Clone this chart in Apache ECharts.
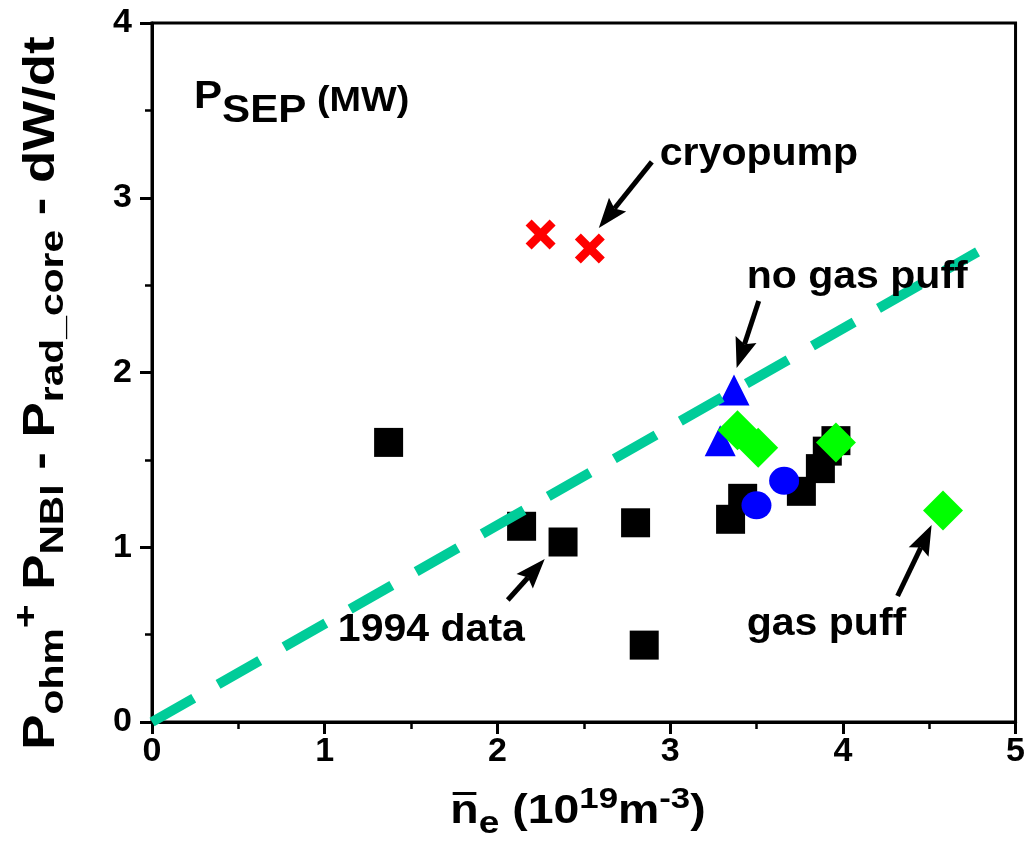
<!DOCTYPE html>
<html>
<head>
<meta charset="utf-8">
<script src="https://cdn.jsdelivr.net/npm/echarts@6/dist/echarts.min.js"></script>
<style>
  html, body { margin: 0; padding: 0; background: #fff; }
  #chart { width: 1028px; height: 848px; }
</style>
</head>
<body>
<div id="chart"></div>
<script>
const FONT = '"Liberation Sans", Arial, Helvetica, sans-serif';

// Axis ranges (line-averaged density in 1e19 m^-3, power in MW)
const xTickValues = [0, 1, 2, 3, 4, 5];
const yTickValues = [0, 1, 2, 3, 4];

// Measured points [density, P_SEP]
const data1994 = [
  [1.37, 1.60], [2.14, 1.12], [2.38, 1.03], [2.80, 1.14], [2.85, 0.44],
  [3.35, 1.16], [3.42, 1.28], [3.76, 1.32], [3.87, 1.45], [3.91, 1.55], [3.96, 1.61]
];
const circlePoints = [[3.50, 1.24], [3.66, 1.38]];
const noGasPuffPoints = [[3.37, 1.90], [3.29, 1.61]];
const gasPuffPoints = [[3.39, 1.67], [3.51, 1.57], [3.96, 1.60], [4.58, 1.21]];
const cryopumpPoints = [[2.25, 2.79], [2.535, 2.71]];

// Dashed threshold line end points
const trendLine = [[0, 0], [4.78, 2.69]];

// Annotation arrows [fromX, fromY, toX, toY] and their texts [text, x, y]
const arrows = [
  [2.894, 3.205, 2.587, 2.827],
  [3.513, 2.409, 3.385, 2.026],
  [2.060, 0.698, 2.274, 0.933],
  [4.317, 0.721, 4.514, 1.127]
];
const notes = [
  ['cryopump', 2.94, 3.245],
  ['no gas puff', 3.443, 2.546],
  ['1994 data', 1.076, 0.521],
  ['gas puff', 3.443, 0.555]
];

const chart = echarts.init(document.getElementById('chart'), null, { renderer: 'canvas' });

// text measuring for the mixed-size (sub/superscript) titles
const mctx = document.createElement('canvas').getContext('2d');
function fontStr(size) { return 'bold ' + size + 'px ' + FONT; }
function textWidth(t, size) { mctx.font = fontStr(size); return mctx.measureText(t).width; }

// Builds a run of text pieces laid out left to right; dy shifts a piece (down is positive)
function textRun(parts) {
  let x = 0;
  const children = [];
  parts.forEach(p => {
    const w = textWidth(p.t, p.s);
    children.push({
      type: 'text', x: x, y: p.dy || 0,
      style: { text: p.t, font: fontStr(p.s), fill: '#000', align: 'left', verticalAlign: 'middle' }
    });
    if (p.bar) {
      children.push({
        type: 'rect', shape: { x: x + 2, y: (p.dy || 0) - p.bar, width: w - 4, height: 3 },
        style: { fill: '#000' }
      });
    }
    x += w;
  });
  return { children, width: x };
}

const crossSymbol = 'path://M2,0L5,3L8,0L10,2L7,5L10,8L8,10L5,7L2,10L0,8L3,5L0,2Z';

const yTitle = textRun([
  { t: 'P', s: 44 }, { t: 'ohm', s: 34, dy: 12 }, { t: '+', s: 34, dy: -14 },
  { t: ' P', s: 44 }, { t: 'NBI', s: 34, dy: 12 },
  { t: ' - P', s: 44 }, { t: 'rad_core', s: 34, dy: 12 },
  { t: ' - dW/dt', s: 44 }
]);
const xTitle = textRun([
  { t: 'n', s: 40, bar: 20 }, { t: 'e', s: 32, dy: 12 },
  { t: ' (10', s: 40 }, { t: '19', s: 30, dy: -12 },
  { t: 'm', s: 40 }, { t: '-3', s: 30, dy: -12 }, { t: ')', s: 40 }
]);
const pTitle = textRun([
  { t: 'P', s: 39 }, { t: 'SEP', s: 39, dy: 14 }, { t: ' (MW)', s: 35, dy: 4 }
]);
const Y_STRETCH = 1.2, X_STRETCH = 1.16, P_STRETCH = 1.08, NOTE_STRETCH = 1.08;

const axisCommon = {
  type: 'value',
  axisLine: { show: true, onZero: false, lineStyle: { color: '#000', width: 3 } },
  axisTick: { show: true, inside: false, length: 12, lineStyle: { color: '#000', width: 3 } },
  minorTick: { show: true, splitNumber: 2, length: 7, lineStyle: { color: '#000', width: 2.5 } },
  splitLine: { show: false },
  minorSplitLine: { show: false }
};

const option = {
  backgroundColor: '#fff',
  animation: false,
  grid: {
    left: 152, right: 12, top: 23, bottom: 126,
    show: true, borderColor: '#000', borderWidth: 3, backgroundColor: 'transparent'
  },
  xAxis: Object.assign({}, axisCommon, {
    min: xTickValues[0], max: xTickValues[xTickValues.length - 1], interval: 1,
    axisLabel: { fontSize: 34, fontWeight: 'bold', color: '#000', fontFamily: FONT, margin: 13 }
  }),
  yAxis: Object.assign({}, axisCommon, {
    min: yTickValues[0], max: yTickValues[yTickValues.length - 1], interval: 1,
    axisLabel: { fontSize: 34, fontWeight: 'bold', color: '#000', fontFamily: FONT, margin: 20 }
  }),
  series: [
    { type: 'scatter', data: data1994, symbol: 'rect', symbolSize: 29,
      itemStyle: { color: '#000', opacity: 1 }, z: 2 },
    { type: 'scatter', data: circlePoints, symbol: 'circle', symbolSize: [30, 28],
      itemStyle: { color: '#0000FF', opacity: 1 }, z: 2 },
    { type: 'scatter', data: noGasPuffPoints, symbol: 'triangle', symbolSize: [31, 31],
      itemStyle: { color: '#0000FF', opacity: 1 }, z: 2 },
    { type: 'scatter', data: gasPuffPoints, symbol: 'diamond', symbolSize: 40,
      itemStyle: { color: '#00FF00', opacity: 1 }, z: 2 },
    { type: 'scatter', data: cryopumpPoints, symbol: crossSymbol, symbolSize: 30,
      itemStyle: { color: '#FF0000', opacity: 1 }, z: 2 },
    { type: 'line', data: trendLine, symbol: 'none', clip: false, z: 5,
      lineStyle: { color: '#00CC99', width: 10, type: [48, 28], cap: 'butt', opacity: 1 } },
    { type: 'custom', data: arrows, encode: { x: [0, 2], y: [1, 3] }, z: 6, silent: true, clip: false,
      renderItem: function (params, api) {
        const a = api.coord([api.value(0), api.value(1)]);
        const b = api.coord([api.value(2), api.value(3)]);
        const dx = b[0] - a[0], dy = b[1] - a[1];
        const len = Math.sqrt(dx * dx + dy * dy);
        const ux = dx / len, uy = dy / len, nx = -uy, ny = ux;
        const L = 30, W = 11, notch = 5;
        const bx = b[0] - ux * L, by = b[1] - uy * L;
        return {
          type: 'group',
          children: [
            { type: 'line', shape: { x1: a[0], y1: a[1], x2: bx + ux * notch, y2: by + uy * notch },
              style: { stroke: '#000', lineWidth: 5 } },
            { type: 'polygon', shape: { points: [
                b, [bx + nx * W, by + ny * W], [bx + ux * notch, by + uy * notch], [bx - nx * W, by - ny * W]
              ] }, style: { fill: '#000' } }
          ]
        };
      }
    },
    { type: 'custom', data: notes.map(n => [n[1], n[2]]), encode: { x: 0, y: 1 }, z: 6, silent: true, clip: false,
      renderItem: function (params, api) {
        const p = api.coord([api.value(0), api.value(1)]);
        return {
          type: 'text', x: p[0], y: p[1], scaleX: NOTE_STRETCH,
          style: { text: notes[params.dataIndex][0], font: fontStr(38), fill: '#000',
                   align: 'left', verticalAlign: 'middle' }
        };
      }
    }
  ],
  graphic: [
    { type: 'group', x: 194, y: 97, scaleX: P_STRETCH, children: pTitle.children },
    { type: 'group', x: 578 - xTitle.width * X_STRETCH / 2, y: 812, scaleX: X_STRETCH, children: xTitle.children },
    { type: 'group', x: 42, y: 393 + yTitle.width * Y_STRETCH / 2, rotation: Math.PI / 2,
      scaleX: Y_STRETCH, children: yTitle.children }
  ]
};

chart.setOption(option);
</script>
</body>
</html>
